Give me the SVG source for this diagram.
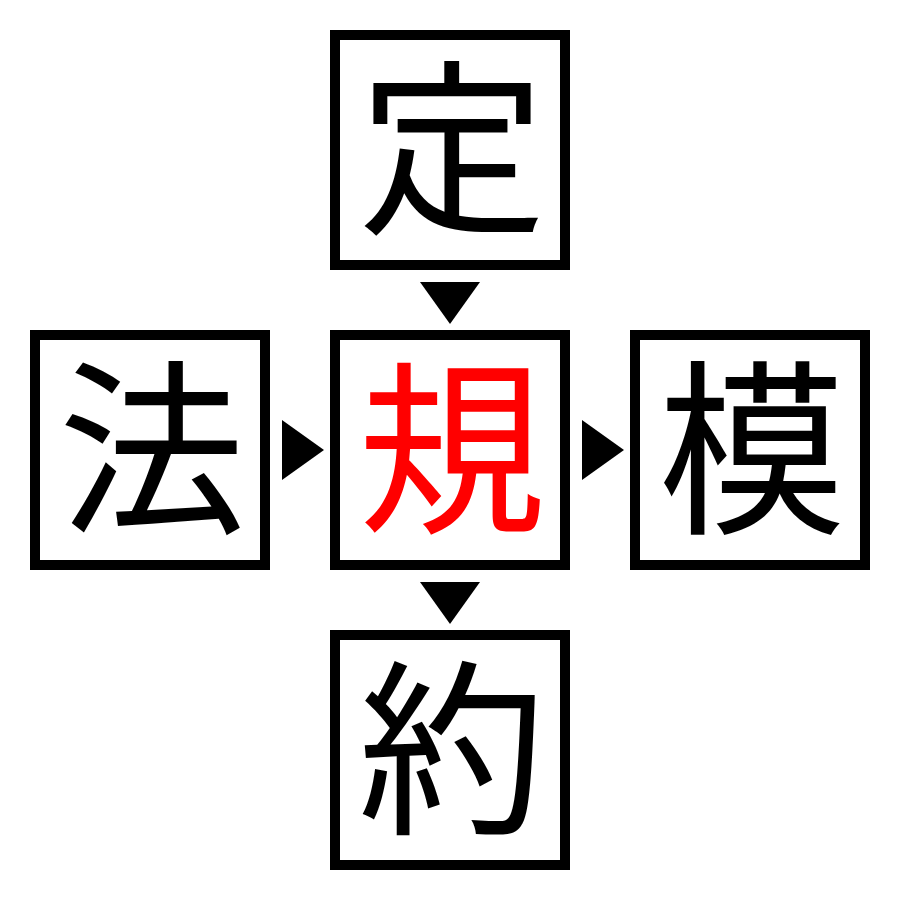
<svg xmlns="http://www.w3.org/2000/svg" width="900" height="900" viewBox="0 0 900 900">
<style>
.box{fill:#fff;stroke:#000;stroke-width:10}
.ch{font-family:"Noto Sans CJK JP","Noto Sans CJK SC",serif;font-size:188px;text-anchor:middle;fill:#000}
.red{fill:#ff0000}
.arr{fill:#000}
</style>
<rect width="900" height="900" fill="#fff"/>
<g id="node-top"><rect class="box" x="335" y="35" width="230" height="230"/><text class="ch" x="452" y="219">定</text></g>
<g id="node-left"><rect class="box" x="35" y="335" width="230" height="230"/><text class="ch" x="152" y="519">法</text></g>
<g id="node-center"><rect class="box" x="335" y="335" width="230" height="230"/><text class="ch red" x="452" y="519">規</text></g>
<g id="node-right"><rect class="box" x="635" y="335" width="230" height="230"/><text class="ch" x="752" y="519">模</text></g>
<g id="node-bottom"><rect class="box" x="335" y="635" width="230" height="230"/><text class="ch" x="452" y="819">約</text></g>
<g id="connectors">
<polygon class="arr" points="420,282 480,282 450,324"/>
<polygon class="arr" points="282,420 282,480 324,450"/>
<polygon class="arr" points="582,420 582,480 624,450"/>
<polygon class="arr" points="420,582 480,582 450,624"/>
</g>
</svg>
